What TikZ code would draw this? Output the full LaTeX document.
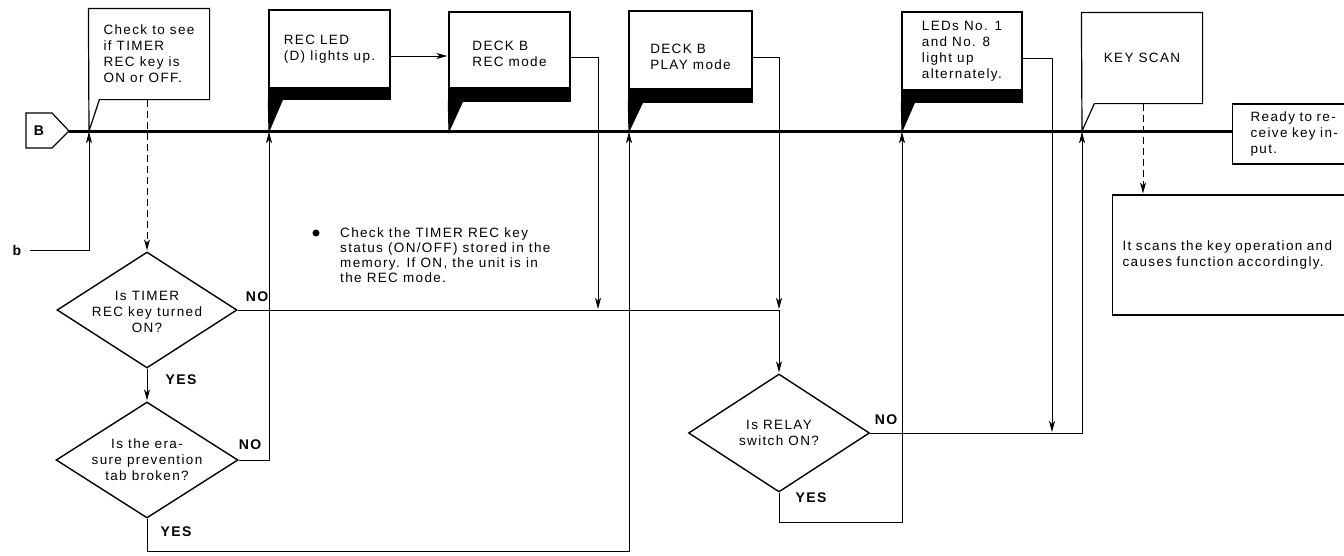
\documentclass[tikz,border=0pt]{standalone}
\usepackage{fontspec}
\setmainfont{Liberation Sans}[LetterSpace=10]
\usetikzlibrary{arrows.meta,shapes.geometric,calc}
\begin{document}
\begin{tikzpicture}[x=1pt,y=-1pt,
  txt/.style={font=\fontsize{13.5}{16}\selectfont, align=left},
  box/.style={txt, draw, line width=1.2pt, inner sep=4pt},
  bd/.style={line width=1.2pt, line join=miter},
  ln/.style={line width=0.9pt},
  arr/.style={-{Stealth[length=11pt,width=6pt,inset=3pt]}, shorten >=1pt},
  dsh/.style={dash pattern=on 7pt off 4pt},
  busline/.style={line width=3pt},
  dia/.style={diamond, draw, line width=1.4pt, inner sep=0pt},
  lab/.style={font=\fontsize{14}{14}\selectfont\bfseries},
]
\useasboundingbox (0,0) rectangle (1344,555);
\begin{scope}
\clip (0,0) rectangle (1344,555);

% taps on the bus
\coordinate (t1) at (89,131);
\coordinate (t2) at (269,131);
\coordinate (t3) at (449,131);
\coordinate (t4) at (629,131);
\coordinate (t5) at (902,131);
\coordinate (t6) at (1082,131);

% start symbol
\node[lab] (B) at (39,131) {B};
\draw[bd] (26,113) -- (52,113) -- (69,131) -- (52,148) -- (26,148) -- cycle;
\coordinate (Btip) at (69,131);

% boxes
\node[box, draw=none, minimum width=120, minimum height=90] (chk) at (149,54)
  {Check to see\\if TIMER\\REC key is\\ON or OFF.};
\draw[bd] (chk.north west) -- (chk.north east) -- (chk.south east)
  -- ([xshift=11pt]chk.south west) -- (t1) -- cycle;

\node[box, minimum width=121, minimum height=78] (recled) at (329.5,49)
  {REC LED\\(D) lights up.};
\filldraw[bd] (recled.south west) rectangle ([yshift=-11pt]recled.south east);
\filldraw[bd] ([yshift=-11pt]recled.south west) -- ([yshift=-11pt,xshift=14pt]recled.south west) -- (t2) -- cycle;

\node[box, minimum width=121, minimum height=76, text height=34pt] (deckrec) at (509.5,50)
  {DECK B\\REC mode};
\filldraw[bd] (deckrec.south west) rectangle ([yshift=-13pt]deckrec.south east);
\filldraw[bd] ([yshift=-13pt]deckrec.south west) -- ([yshift=-13pt,xshift=14pt]deckrec.south west) -- (t3) -- cycle;

\node[box, minimum width=123, minimum height=78, text height=40pt] (deckplay) at (690.5,50)
  {DECK B\\PLAY mode};
\filldraw[bd] (deckplay.south west) rectangle ([yshift=-13pt]deckplay.south east);
\filldraw[bd] ([yshift=-13pt]deckplay.south west) -- ([yshift=-13pt,xshift=14pt]deckplay.south west) -- (t4) -- cycle;

\node[box, minimum width=120, minimum height=78] (leds) at (962,51)
  {LEDs No. 1\\and No. 8\\light up\\alternately.};
\filldraw[bd] (leds.south west) rectangle ([yshift=-12pt]leds.south east);
\filldraw[bd] ([yshift=-12pt]leds.south west) -- ([yshift=-12pt,xshift=13pt]leds.south west) -- (t5) -- cycle;

\node[box, draw=none, minimum width=120, minimum height=90] (keyscan) at (1142,58)
  {KEY SCAN};
\draw[bd] (keyscan.north west) -- (keyscan.north east) -- (keyscan.south east)
  -- ([xshift=13pt]keyscan.south west) -- (t6) -- cycle;

\node[box, anchor=west, minimum height=60, text width=100, inner xsep=18pt] (ready) at (1232,134)
  {Ready to re-\\ceive key in-\\put.};

\node[box, anchor=west, minimum height=120, text width=250, inner xsep=10pt] (scan) at (1112,255)
  {It scans the key operation and\\causes function accordingly.};

% bus
\draw[busline] (Btip) -- (Btip -| ready.west);

% note
\node[circle, fill, inner sep=0pt, minimum size=7] (bul) at (316,233) {};
\node[txt, anchor=north west, inner sep=0pt, font=\fontsize{13.5}{15}\selectfont] (note) at (340,228)
  {Check the TIMER REC key\\status (ON/OFF) stored in the\\memory. If ON, the unit is in\\the REC mode.};

% decisions
\node[dia, minimum width=180, minimum height=116] (d1) at (147,310) {};
\node[txt, align=center, inner sep=0pt] (d1t) at ([yshift=-2pt]d1.center) {Is TIMER\\REC key turned\\ON?};
\node[dia, minimum width=182, minimum height=116] (d2) at (147,460) {};
\node[txt, align=center, inner sep=0pt] (d2t) at (d2.center) {Is the era-\\sure prevention\\tab broken?};
\node[dia, minimum width=181, minimum height=118] (d3) at (779,433) {};
\node[txt, align=center, inner sep=0pt] (d3t) at (d3.center) {Is RELAY\\switch ON?};

% labels
\node[lab] (b) at (17,250) {b};
\node[lab] (no1) at (257,297) {NO};
\node[lab] (yes1) at (181,380) {YES};
\node[lab] (no2) at (250,445) {NO};
\node[lab] (yes2) at (176,532) {YES};
\node[lab] (no3) at (886,420) {NO};
\node[lab] (yes3) at (811,498) {YES};

% junctions
\coordinate (j1) at (598,310);
\coordinate (j2) at (779,310);
\coordinate (j3) at (1052,433);
\coordinate (r1) at ($(recled.east)+(0,7)$);
\coordinate (r2) at ($(deckrec.east)+(0,7)$);
\coordinate (r3) at ($(deckplay.east)+(0,7)$);
\coordinate (r4) at ($(leds.east)+(0,7)$);

% connectors
\draw[ln,arr] ([xshift=5pt]b.east) -| (t1);
\draw[ln,arr,dsh] (d1.north |- chk.south) -- (d1.north);
\draw[ln,arr] (d1.south) -- (d2.north);
\draw[ln] (d1.east) -- (j2);
\draw[ln,arr] (d2.east) -| (t2);
\draw[ln,arr] (d2.south) -- ++(0,33) -| (t4);
\draw[ln,arr] (r1) -- (r1 -| deckrec.west);
\draw[ln,arr] (r2) -| (j1);
\draw[ln,arr] (r3) -| (j2);
\draw[ln,arr] (j2) -- (d3.north);
\draw[ln,arr] (d3.east) -| (t6);
\draw[ln,arr] (r4) -| (j3);
\draw[ln,arr] (d3.south) -- ++(0,30) -| (t5);
\draw[ln,arr,dsh] ([xshift=1pt]keyscan.south) -- ([xshift=1pt]keyscan.south |- scan.north);
\end{scope}
\end{tikzpicture}
\end{document}
